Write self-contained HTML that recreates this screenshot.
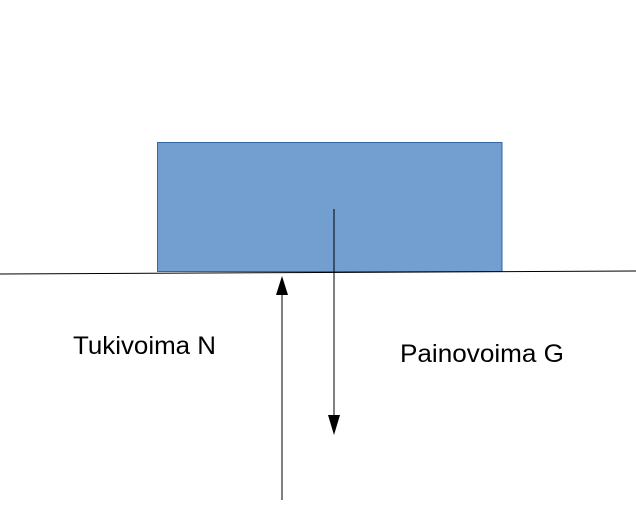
<!DOCTYPE html>
<html><head><style>body{margin:0;background:#fff}</style></head><body>
<svg width="636" height="508" xmlns="http://www.w3.org/2000/svg" style="display:block">
<rect x="157.5" y="142.5" width="344.5" height="129" fill="#729fcf" stroke="#3465a4" stroke-width="1"/>
<line x1="0" y1="274" x2="636" y2="271" stroke="#000" stroke-width="1"/>
<line x1="282" y1="500" x2="282" y2="292" stroke="#000" stroke-width="1"/>
<polygon points="282,276 276,295 288,295" fill="#000"/>
<line x1="334" y1="209" x2="334" y2="418" stroke="#000" stroke-width="1"/>
<polygon points="334,435 328,415 340,415" fill="#000"/>
<text x="73" y="354" font-family="Liberation Sans, sans-serif" font-size="25" textLength="143" lengthAdjust="spacingAndGlyphs">Tukivoima N</text>
<text x="400" y="362" font-family="Liberation Sans, sans-serif" font-size="25" textLength="164" lengthAdjust="spacingAndGlyphs">Painovoima G</text>
</svg>
</body></html>
